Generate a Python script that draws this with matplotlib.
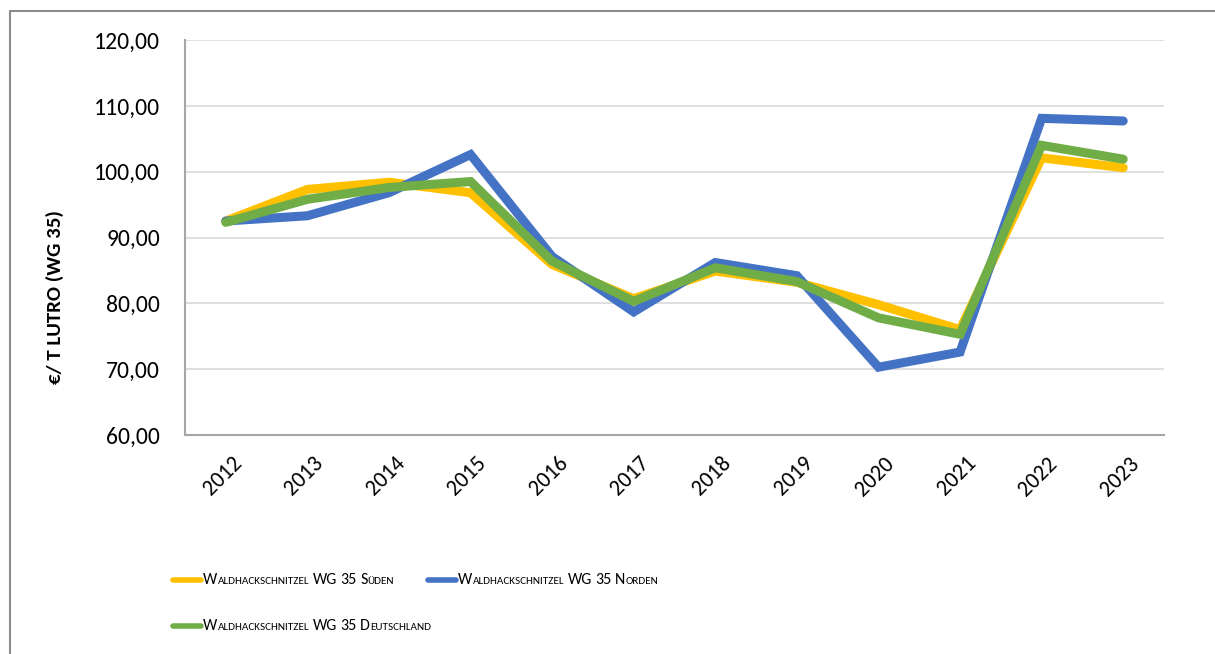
import matplotlib.pyplot as plt
from matplotlib.lines import Line2D
from matplotlib.patches import Rectangle
from matplotlib.ticker import FuncFormatter
from matplotlib.offsetbox import TextArea, HPacker, DrawingArea, AnchoredOffsetbox
import matplotlib.transforms as mtransforms

plt.rcParams["font.family"] = ["Carlito", "Lato", "DejaVu Sans"]

YELLOW = "#FFC000"
BLUE = "#4472C4"
GREEN = "#70AD47"
GRID = "#D9D9D9"
AXIS = "#A6A6A6"

years = ["2012", "2013", "2014", "2015", "2016", "2017",
         "2018", "2019", "2020", "2021", "2022", "2023"]
sueden = [92.5, 97.3, 98.4, 96.8, 85.9, 80.7, 84.9, 83.2, 79.8, 76.0, 102.1, 100.6]
norden = [92.5, 93.3, 96.8, 102.6, 87.1, 78.7, 86.2, 84.2, 70.3, 72.6, 108.1, 107.7]
deutschland = [92.3, 95.8, 97.6, 98.5, 86.4, 80.3, 85.4, 83.3, 77.8, 75.3, 104.0, 101.9]

labels = ["Waldhackschnitzel WG 35 Süden",
          "Waldhackschnitzel WG 35 Norden",
          "Waldhackschnitzel WG 35 Deutschland"]
series = [sueden, norden, deutschland]
colors = [YELLOW, BLUE, GREEN]

W, H = 1215, 654
fig = plt.figure(figsize=(W / 100, H / 100), dpi=100)
ax = fig.add_axes([185 / W, 1 - 435 / H, (1164 - 185) / W, (435 - 40) / H])

x = list(range(len(years)))
for vals, c in zip(series, colors):
    ax.plot(x, vals, color=c, lw=6.5, solid_capstyle="round", solid_joinstyle="miter")

ax.set_xlim(-0.5, len(years) - 0.5)
ax.set_ylim(60, 120)
ax.set_yticks(range(60, 121, 10))
ax.yaxis.set_major_formatter(FuncFormatter(lambda v, p: f"{v:.2f}".replace(".", ",")))
ax.grid(axis="y", color=GRID, lw=1.2)
ax.set_axisbelow(True)
for s in ["top", "right"]:
    ax.spines[s].set_visible(False)
for s in ["left", "bottom"]:
    ax.spines[s].set_color(AXIS)
    ax.spines[s].set_linewidth(1.5)
ax.tick_params(axis="y", length=0, pad=18, labelsize=17, labelcolor="black")
ax.tick_params(axis="x", length=0, pad=13, labelsize=16, labelcolor="black")
ax.set_xticks(x)
ax.set_xticklabels(years, rotation=45, ha="right", va="top", rotation_mode="anchor")
offset = mtransforms.ScaledTranslation(4 / 72, 0, fig.dpi_scale_trans)
for lab in ax.get_xticklabels():
    lab.set_transform(lab.get_transform() + offset)

fig.text(55 / W, 1 - 297 / H, "€/ T LUTRO (WG 35)", rotation=90, ha="center", va="center",
         fontsize=15, fontweight="bold")


# legend with small caps, built by hand
def smallcaps(label, big=11.5, small=8.0):
    words = []
    for w in label.split(" "):
        if w.isupper() or w.isdigit():
            parts = [TextArea(w, textprops=dict(fontsize=big))]
        else:
            parts = [TextArea(w[0], textprops=dict(fontsize=big)),
                     TextArea(w[1:].upper(), textprops=dict(fontsize=small))]
        words.append(HPacker(children=parts, align="baseline", pad=0, sep=0))
    return HPacker(children=words, align="baseline", pad=0, sep=2.5)


def legend_entry(label, color, px, py):
    da = DrawingArea(24, 10, 0, 0)
    da.add_artist(Line2D([2, 22], [5, 5], color=color, lw=4, solid_capstyle="round"))
    box = HPacker(children=[da, smallcaps(label)], align="center", pad=0, sep=0)
    anc = AnchoredOffsetbox(loc="center left", child=box, pad=0, borderpad=0, frameon=False,
                            bbox_to_anchor=(px / W, 1 - py / H),
                            bbox_transform=fig.transFigure)
    fig.add_artist(anc)


legend_entry(labels[0], colors[0], 170, 580)
legend_entry(labels[1], colors[1], 425, 580)
legend_entry(labels[2], colors[2], 170, 626)

# chart border
fig.add_artist(Rectangle((10 / W, -0.1), 1.1, 1 - 11 / H + 0.1, transform=fig.transFigure,
                         fill=False, edgecolor="#8C8C8C", lw=1.5))

fig.savefig("out.png", dpi=100, facecolor="white")
